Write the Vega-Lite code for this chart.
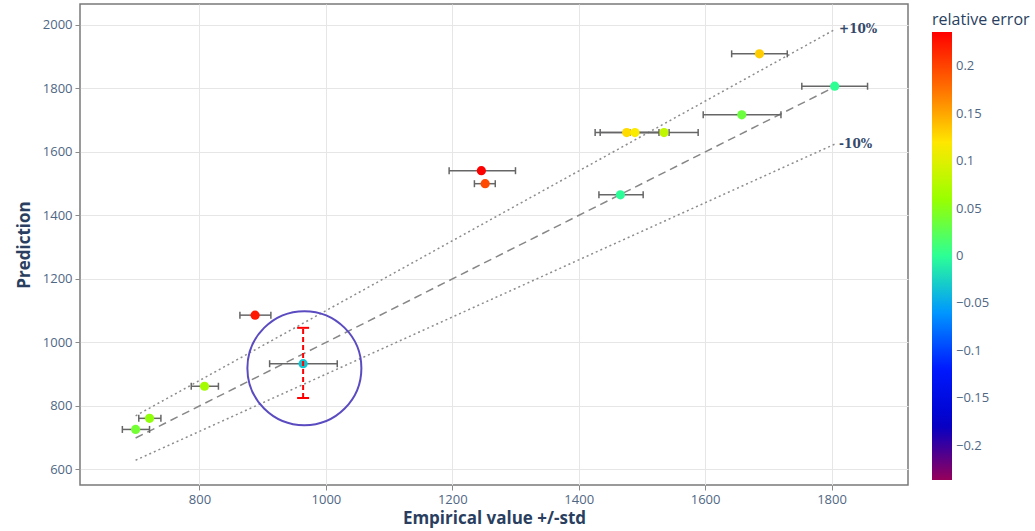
{
  "$schema": "https://vega.github.io/schema/vega-lite/v6.json",
  "width": 828,
  "height": 481,
  "autosize": {"type": "none"},
  "padding": {"left": 80, "top": 4, "right": 127, "bottom": 46},
  "background": "white",
  "config": {
    "font": "Open Sans",
    "view": {"stroke": "#7a7a7a", "strokeWidth": 1.5},
    "axis": {
      "grid": true,
      "gridColor": "#e6e6e6",
      "gridWidth": 1,
      "domain": false,
      "tickColor": "#8a8a8a",
      "tickSize": 5,
      "labelFont": "Open Sans",
      "labelFontSize": 13,
      "labelColor": "#506784",
      "titleFont": "Open Sans",
      "titleFontSize": 17,
      "titleFontWeight": "bold",
      "titleColor": "#2a3f5f"
    }
  },
  "datasets": {
    "points": [
      {"x": 699, "y": 726, "lo": 678, "hi": 721, "err": 0.039},
      {"x": 721, "y": 761, "lo": 704, "hi": 739, "err": 0.055},
      {"x": 808, "y": 862, "lo": 787, "hi": 830, "err": 0.067},
      {"x": 888, "y": 1086, "lo": 864, "hi": 913, "err": 0.223},
      {"x": 964, "y": 933, "lo": 911, "hi": 1018, "err": -0.033},
      {"x": 1246, "y": 1541, "lo": 1195, "hi": 1300, "err": 0.236},
      {"x": 1252, "y": 1500, "lo": 1235, "hi": 1268, "err": 0.197},
      {"x": 1466, "y": 1465, "lo": 1432, "hi": 1502, "err": -0.001},
      {"x": 1476, "y": 1661, "lo": 1426, "hi": 1527, "err": 0.125},
      {"x": 1489, "y": 1661, "lo": 1434, "hi": 1543, "err": 0.116},
      {"x": 1535, "y": 1661, "lo": 1481, "hi": 1589, "err": 0.082},
      {"x": 1658, "y": 1717, "lo": 1597, "hi": 1720, "err": 0.035},
      {"x": 1686, "y": 1909, "lo": 1642, "hi": 1730, "err": 0.132},
      {"x": 1805, "y": 1807, "lo": 1753, "hi": 1857, "err": 0.001}
    ],
    "identity": [{"x": 699, "y": 699}, {"x": 1805, "y": 1805}],
    "plus10": [{"x": 699, "y": 769}, {"x": 1805, "y": 1985.5}],
    "minus10": [{"x": 699, "y": 629}, {"x": 1805, "y": 1624.5}],
    "redbar": [{"x": 964, "lo": 825, "hi": 1046}],
    "ring": [{"x": 966, "y": 919}],
    "labels": [
      {"x": 1812, "y": 1986, "label": "+10%"},
      {"x": 1812, "y": 1624, "label": "-10%"}
    ]
  },
  "layer": [
    {
      "data": {"name": "identity"},
      "mark": {"type": "line", "color": "#878787", "strokeWidth": 1.5, "strokeDash": [8, 5]},
      "encoding": {
        "x": {"field": "x", "type": "quantitative", "title": "Empirical value +/-std",
              "scale": {"domain": [611, 1921], "nice": false, "zero": false},
              "axis": {"values": [800, 1000, 1200, 1400, 1600, 1800], "format": "d", "labelPadding": 3, "titlePadding": 4}},
        "y": {"field": "y", "type": "quantitative", "title": "Prediction",
              "scale": {"domain": [551, 2066], "nice": false, "zero": false},
              "axis": {"values": [600, 800, 1000, 1200, 1400, 1600, 1800, 2000], "format": "d", "labelPadding": 3, "titlePadding": 9}}
      }
    },
    {
      "data": {"name": "plus10"},
      "mark": {"type": "line", "color": "#8c8c8c", "strokeWidth": 1.5, "strokeDash": [2, 3]},
      "encoding": {
        "x": {"field": "x", "type": "quantitative", "title": "Empirical value +/-std"},
        "y": {"field": "y", "type": "quantitative", "title": "Prediction"}
      }
    },
    {
      "data": {"name": "minus10"},
      "mark": {"type": "line", "color": "#8c8c8c", "strokeWidth": 1.5, "strokeDash": [2, 3]},
      "encoding": {
        "x": {"field": "x", "type": "quantitative", "title": "Empirical value +/-std"},
        "y": {"field": "y", "type": "quantitative", "title": "Prediction"}
      }
    },
    {
      "data": {"name": "points"},
      "mark": {"type": "rule", "color": "#666666", "strokeWidth": 1.5},
      "encoding": {
        "x": {"field": "lo", "type": "quantitative", "title": "Empirical value +/-std"},
        "x2": {"field": "hi"},
        "y": {"field": "y", "type": "quantitative", "title": "Prediction"}
      }
    },
    {
      "data": {"name": "points"},
      "mark": {"type": "tick", "orient": "vertical", "size": 7, "thickness": 1.5, "color": "#666666", "opacity": 1},
      "encoding": {
        "x": {"field": "lo", "type": "quantitative", "title": "Empirical value +/-std"},
        "y": {"field": "y", "type": "quantitative", "title": "Prediction"}
      }
    },
    {
      "data": {"name": "points"},
      "mark": {"type": "tick", "orient": "vertical", "size": 7, "thickness": 1.5, "color": "#666666", "opacity": 1},
      "encoding": {
        "x": {"field": "hi", "type": "quantitative", "title": "Empirical value +/-std"},
        "y": {"field": "y", "type": "quantitative", "title": "Prediction"}
      }
    },
    {
      "data": {"name": "points"},
      "mark": {"type": "point", "shape": "circle", "filled": true, "size": 85, "opacity": 1},
      "encoding": {
        "x": {"field": "x", "type": "quantitative", "title": "Empirical value +/-std"},
        "y": {"field": "y", "type": "quantitative", "title": "Prediction"},
        "color": {
          "field": "err", "type": "quantitative",
          "scale": {
            "domain": [-0.236, -0.177, -0.118, -0.059, 0, 0.059, 0.118, 0.177, 0.236],
            "range": ["rgb(150,0,90)", "rgb(0,0,200)", "rgb(0,25,255)", "rgb(0,152,255)", "rgb(44,255,150)", "rgb(151,255,0)", "rgb(255,234,0)", "rgb(255,111,0)", "rgb(255,0,0)"],
            "interpolate": "rgb"
          },
          "legend": {
            "orient": "none",
            "legendX": 852,
            "legendY": 8,
            "padding": 0,
            "direction": "vertical",
            "gradientLength": 448,
            "gradientThickness": 20,
            "gradientStrokeWidth": 0,
            "values": [0.2, 0.15, 0.1, 0.05, 0, -0.05, -0.1, -0.15, -0.2],
            "format": ".2~f",
            "title": "relative error",
            "titleFont": "Open Sans",
            "titleFontSize": 16,
            "titleFontWeight": "normal",
            "titleColor": "#2a3f5f",
            "titlePadding": 4,
            "labelFont": "Open Sans",
            "labelFontSize": 13,
            "labelColor": "#506784",
            "labelOffset": 4
          }
        }
      }
    },
    {
      "data": {"name": "redbar"},
      "mark": {"type": "rule", "color": "#ff0000", "strokeWidth": 2, "strokeDash": [5, 3]},
      "encoding": {
        "x": {"field": "x", "type": "quantitative", "title": "Empirical value +/-std"},
        "y": {"field": "lo", "type": "quantitative", "title": "Prediction"},
        "y2": {"field": "hi"}
      }
    },
    {
      "data": {"name": "redbar"},
      "mark": {"type": "tick", "orient": "horizontal", "size": 12, "thickness": 2, "color": "#ff0000", "opacity": 1},
      "encoding": {
        "x": {"field": "x", "type": "quantitative", "title": "Empirical value +/-std"},
        "y": {"field": "lo", "type": "quantitative", "title": "Prediction"}
      }
    },
    {
      "data": {"name": "redbar"},
      "mark": {"type": "tick", "orient": "horizontal", "size": 12, "thickness": 2, "color": "#ff0000", "opacity": 1},
      "encoding": {
        "x": {"field": "x", "type": "quantitative", "title": "Empirical value +/-std"},
        "y": {"field": "hi", "type": "quantitative", "title": "Prediction"}
      }
    },
    {
      "data": {"name": "ring"},
      "mark": {"type": "point", "shape": "circle", "filled": false, "size": 12996, "stroke": "#5a4cc0", "strokeWidth": 2, "opacity": 1},
      "encoding": {
        "x": {"field": "x", "type": "quantitative", "title": "Empirical value +/-std"},
        "y": {"field": "y", "type": "quantitative", "title": "Prediction"}
      }
    },
    {
      "data": {"name": "labels"},
      "mark": {"type": "text", "align": "left", "baseline": "middle", "font": "DejaVu Serif", "fontWeight": "bold", "fontSize": 12, "color": "#34486b"},
      "encoding": {
        "x": {"field": "x", "type": "quantitative", "title": "Empirical value +/-std"},
        "y": {"field": "y", "type": "quantitative", "title": "Prediction"},
        "text": {"field": "label"}
      }
    }
  ]
}
